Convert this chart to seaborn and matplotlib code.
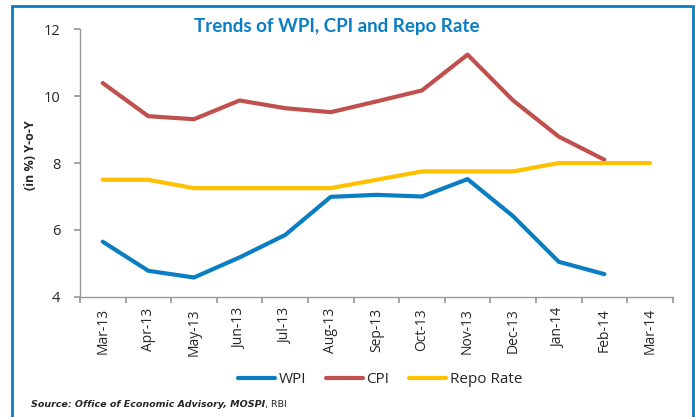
import numpy as np
import pandas as pd
import matplotlib
matplotlib.use("Agg")
import matplotlib.pyplot as plt
import seaborn as sns
from matplotlib.patches import Rectangle
from matplotlib.lines import Line2D

months = ["Mar-13", "Apr-13", "May-13", "Jun-13", "Jul-13", "Aug-13", "Sep-13",
          "Oct-13", "Nov-13", "Dec-13", "Jan-14", "Feb-14", "Mar-14"]
wpi = [5.65, 4.78, 4.58, 5.18, 5.85, 6.99, 7.05, 7.00, 7.52, 6.41, 5.05, 4.68, np.nan]
cpi = [10.39, 9.40, 9.31, 9.87, 9.64, 9.52, 9.84, 10.17, 11.24, 9.87, 8.79, 8.10, np.nan]
repo = [7.50, 7.50, 7.25, 7.25, 7.25, 7.25, 7.50, 7.75, 7.75, 7.75, 8.00, 8.00, 8.00]
series_names = ["WPI", "CPI", "Repo Rate"]
colors = ["#0B7DC2", "#C0504D", "#FFC000"]

sns.set_theme(style="white")
plt.rcParams["font.family"] = ["Open Sans", "DejaVu Sans"]

df = pd.DataFrame({"pos": np.tile(np.arange(len(months)), 3),
                   "value": wpi + cpi + repo,
                   "series": np.repeat(series_names, len(months))})

fig = plt.figure(figsize=(6.95, 4.17), dpi=100)
ax = fig.add_axes([0.115, 0.288, 0.853, 0.642])
sns.lineplot(data=df, x="pos", y="value", hue="series", hue_order=series_names,
             palette=colors, linewidth=3, ax=ax, legend=False, sort=False)

ax.set_xlim(-0.5, len(months) - 0.5)
ax.set_ylim(4, 12)
ax.set_yticks([4, 6, 8, 10, 12])
ax.set_xticks(np.arange(-0.5, len(months), 1.0))
ax.set_xticklabels([])
ax.set_xticks(np.arange(len(months)), minor=True)
ax.set_xticklabels(months, minor=True, rotation=90, fontsize=10)
ax.tick_params(axis="x", which="major", direction="out", length=4, color="#999999", bottom=True)
ax.tick_params(axis="x", which="minor", length=0, pad=8)
ax.tick_params(axis="y", direction="out", length=4, color="#999999", left=True, labelsize=10.5, pad=10)
for s in ["top", "right"]:
    ax.spines[s].set_visible(False)
for s in ["left", "bottom"]:
    ax.spines[s].set_color("#999999")
    ax.spines[s].set_linewidth(1)
ax.set_xlabel("")
ax.set_ylabel("(in %) Y-o-Y", fontsize=9, fontweight="bold", va="center")
ax.yaxis.set_label_coords(-0.084, 0.53)

fig.text(0.485, 0.937, "Trends of WPI, CPI and Repo Rate", ha="center", va="center",
         fontsize=13.5, fontweight="bold", color="#0B7DC2", family=["Lato", "DejaVu Sans"])

handles = [Line2D([], [], color=c, lw=3) for c in colors]
fig.legend(handles, series_names, loc="center", bbox_to_anchor=(0.547, 0.089), ncol=3,
           frameon=False, fontsize=11, handlelength=2.4, columnspacing=1.3, handletextpad=0.25)

t1 = fig.text(0.045, 0.025, "Source: Office of Economic Advisory, MOSPI", fontsize=6.8,
              fontweight="bold", style="italic", family="DejaVu Sans", va="baseline")
ax.annotate(", RBI", xy=(1, 0), xycoords=t1, va="bottom", ha="left", fontsize=6.8,
            family="DejaVu Sans", annotation_clip=False)

fig.patches.append(Rectangle((12 / 695, -0.05), (693 - 12) / 695, 1.05 - 6 / 417,
                             transform=fig.transFigure, fill=False, edgecolor="#0B7DC2",
                             linewidth=2, figure=fig))

fig.savefig("out.png", dpi=100)
